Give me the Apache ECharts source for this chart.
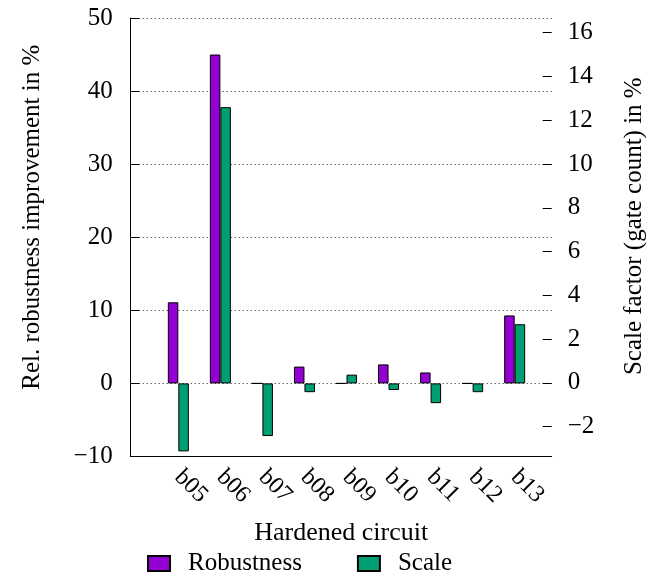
<!DOCTYPE html>
<html>
<head>
<meta charset="utf-8">
<script src="https://cdn.jsdelivr.net/npm/echarts@6/dist/echarts.min.js"></script>
<style>
  html, body { margin: 0; padding: 0; background: #fff; }
  #chart { width: 667px; height: 576px; }
</style>
</head>
<body>
<div id="chart"></div>
<script>
// Benchmark circuits after hardening
const categories = ['b05', 'b06', 'b07', 'b08', 'b09', 'b10', 'b11', 'b12', 'b13'];
// Relative robustness improvement (%), left axis
const robustness = [11.1, 45.0, 0, 2.3, 0, 2.6, 1.5, 0, 9.3];
// Scale factor of the gate count (%), right axis
const scale = [-3.1, 12.6, -2.4, -0.4, 0.4, -0.3, -0.9, -0.4, 2.7];

const leftTicks = { min: -10, max: 50, step: 10 };
const rightTicks = { min: -2, max: 16, step: 2 };

const FONT = 'Liberation Serif';
const minus = v => String(v).replace('-', '\u2212');

const chart = echarts.init(document.getElementById('chart'), null, { renderer: 'canvas' });

// Frame: left axis, gridlines, bottom line
const frame = { left: 130.7, right: 115.3, top: 18, bottom: 119.5 };
// Right-hand scale axis spans -2..16 inside the same frame
const rightGrid = { left: 130.7, right: 115.3, top: 32.7, bottom: 149.3 };
// Bar area: nine category slots
const barGrid = { left: 157.3, right: 131.3, top: 18, bottom: 119.5 };

chart.setOption({
  animation: false,
  backgroundColor: '#fff',
  textStyle: { fontFamily: FONT, color: '#000' },
  grid: [frame, rightGrid, barGrid],
  xAxis: [
    {
      gridIndex: 0, type: 'value', min: 0, max: 1,
      axisLine: { show: true, onZero: false, lineStyle: { color: '#000', width: 1 } },
      axisTick: { show: false }, axisLabel: { show: false }, splitLine: { show: false },
      name: 'Hardened circuit', nameLocation: 'middle', nameGap: 64,
      nameTextStyle: { fontFamily: FONT, fontSize: 26, color: '#000' }
    },
    { gridIndex: 1, type: 'value', min: 0, max: 1, show: false, axisLine: { onZero: false } },
    {
      gridIndex: 2, type: 'category', data: categories,
      axisLine: { show: false, onZero: false }, axisTick: { show: false },
      axisLabel: { interval: 0, rotate: -45, fontFamily: FONT, fontSize: 24, color: '#000', margin: 17 }
    }
  ],
  yAxis: [
    {
      gridIndex: 0, type: 'value', position: 'left',
      min: leftTicks.min, max: leftTicks.max, interval: leftTicks.step,
      axisLine: { show: true, onZero: false, lineStyle: { color: '#000', width: 1 } },
      axisTick: { show: true, inside: true, length: 9, lineStyle: { color: '#000' } },
      axisLabel: { fontFamily: FONT, fontSize: 25, color: '#000', margin: 18, formatter: minus },
      splitLine: { show: true, lineStyle: { color: '#222', width: 1, type: [1, 3] } },
      name: 'Rel. robustness improvement in %', nameLocation: 'middle', nameGap: 86,
      nameTextStyle: { fontFamily: FONT, fontSize: 25, color: '#000', padding: [0, 0, 0, 40] }
    },
    {
      gridIndex: 1, type: 'value', position: 'right',
      min: rightTicks.min, max: rightTicks.max, interval: rightTicks.step,
      axisLine: { show: false, onZero: false },
      axisTick: { show: true, inside: true, length: 9, lineStyle: { color: '#000' } },
      axisLabel: { fontFamily: FONT, fontSize: 25, color: '#000', margin: 16, formatter: minus },
      splitLine: { show: false },
      name: 'Scale factor (gate count) in %', nameLocation: 'middle', nameGap: 70, nameRotate: 90,
      nameTextStyle: { fontFamily: FONT, fontSize: 25, color: '#000', padding: [0, 0, 0, 7] }
    },
    { gridIndex: 2, type: 'value', min: leftTicks.min, max: leftTicks.max, show: false, axisLine: { onZero: false } },
    { gridIndex: 2, type: 'value', min: leftTicks.min / 3, max: leftTicks.max / 3, show: false, axisLine: { onZero: false } }
  ],
  legend: {
    left: 142, top: 546,
    itemWidth: 22, itemHeight: 15, itemGap: 55,
    icon: 'rect',
    textStyle: { fontFamily: FONT, fontSize: 25, color: '#000', padding: [0, 0, 0, 13] },
    data: ['Robustness', 'Scale']
  },
  series: [
    {
      name: 'Robustness', type: 'bar', xAxisIndex: 2, yAxisIndex: 2,
      data: robustness, barWidth: 10.5, barGap: '0%',
      itemStyle: { color: '#9400d3', borderColor: '#000', borderWidth: 1 }
    },
    {
      name: 'Scale', type: 'bar', xAxisIndex: 2, yAxisIndex: 3,
      data: scale, barWidth: 10.5, barGap: '0%',
      itemStyle: { color: '#009e73', borderColor: '#000', borderWidth: 1 }
    }
  ]
});
</script>
</body>
</html>
